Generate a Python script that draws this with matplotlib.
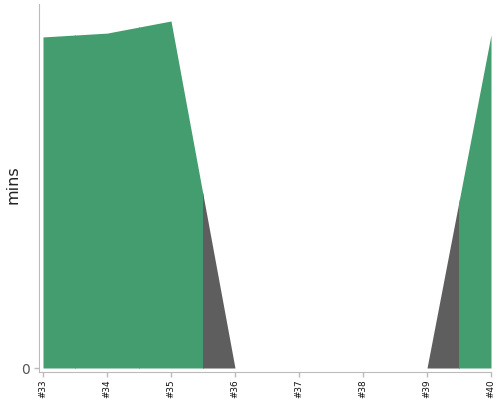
import matplotlib
matplotlib.use("Agg")
import matplotlib.pyplot as plt
from matplotlib.patches import Rectangle

# build numbers and their durations (mins); failed builds show 0
builds = [33, 34, 35, 36, 37, 38, 39, 40]
durations = [9.55, 9.66, 10.01, 0.0, 0.0, 0.0, 0.0, 9.61]
status = ["ok", "ok", "ok", "fail", "fail", "fail", "fail", "ok"]
tick_labels = [f"#{b}" for b in builds]

colors = {"ok": "#449d6e", "fail": "#5e5e5e"}
y_top = 10.5
spine_color = "#bbbbbb"

fig = plt.figure(figsize=(5, 4), dpi=100)
ax = fig.add_axes([0.078, 0.07, 0.904, 0.92])

# one fill per build, clipped to its half-way span
for b, s in zip(builds, status):
    poly = ax.fill_between(builds, 0, durations, color=colors[s], linewidth=0)
    clip = Rectangle((b - 0.5, 0), 1.0, y_top, transform=ax.transData)
    poly.set_clip_path(clip)

ax.set_xlim(builds[0] - 4 / 64, builds[-1])
ax.set_ylim(-y_top * 4 / 364, y_top)

ax.set_xticks(builds)
ax.set_xticklabels(tick_labels, rotation=90, fontsize=6.4, color="#111111")
ax.set_yticks([0])
ax.set_yticklabels(["0"], fontsize=10, color="#555555")
ax.set_ylabel("mins", fontsize=11.5, color="#222222")
ax.yaxis.set_label_coords(-0.04, 0.51)

for side in ("top", "right"):
    ax.spines[side].set_visible(False)
for side in ("left", "bottom"):
    ax.spines[side].set_color(spine_color)
ax.tick_params(axis="both", color=spine_color, length=3.5, width=1)
ax.tick_params(axis="x", pad=1.5)
ax.tick_params(axis="y", pad=3)

fig.savefig("out.png", dpi=100)
